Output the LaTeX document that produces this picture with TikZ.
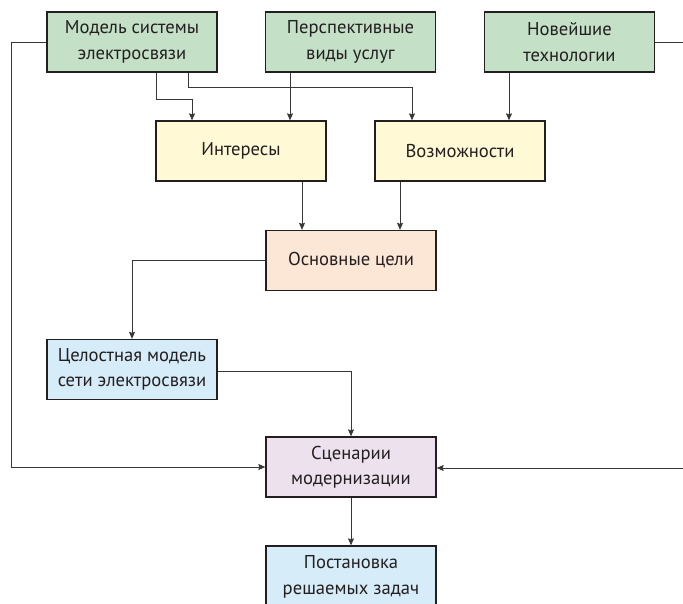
\documentclass[tikz,border=0pt]{standalone}
\usepackage{fontspec}
\setmainfont{PT Sans}
\usetikzlibrary{arrows.meta}
\definecolor{cgreen}{RGB}{196,224,199}
\definecolor{cyellow}{RGB}{255,249,214}
\definecolor{cpeach}{RGB}{252,230,214}
\definecolor{cblue}{RGB}{214,236,248}
\definecolor{cpurple}{RGB}{236,225,236}
\definecolor{cborder}{RGB}{35,31,32}
\definecolor{cline}{RGB}{55,55,55}
\tikzset{
  box/.style={draw=cborder, line width=1.3pt, minimum width=170pt, minimum height=60pt,
    inner sep=0pt, align=center, text=cborder,
    font=\fontsize{18.6}{25.5}\selectfont},
  arr/.style={draw=cline, line width=0.9pt, -{Stealth[length=7pt,width=6pt,inset=1pt]}},
  ln/.style={draw=cline, line width=0.9pt}
}
\begin{document}
\begin{tikzpicture}[x=1pt,y=-1pt]
\clip (0,0) rectangle (683,604);
\useasboundingbox (0,0) rectangle (683,604);
\node[box, fill=cgreen] (A) at (132,42) {Модель системы\\электросвязи};
\node[box, fill=cgreen] (B) at (350.5,42) {Перспективные\\виды услуг};
\node[box, fill=cgreen] (C) at (569.5,42) {Новейшие\\технологии};
\node[box, fill=cyellow] (I) at (241,151) {Интересы};
\node[box, fill=cyellow] (V) at (460,151) {Возможности};
\node[box, fill=cpeach] (O) at (351,260.5) {Основные цели};
\node[box, fill=cblue] (T) at (132,369.5) {Целостная модель\\сети электросвязи};
\node[box, fill=cpurple] (S) at (351,467) {Сценарии\\модернизации};
\node[box, fill=cblue, minimum height=62pt] (P) at (351,577) {Постановка\\решаемых задач};

\coordinate (j1) at (192,99);
\coordinate (j2) at (412,87);
\coordinate (lc) at (11,467);
\coordinate (rc1) at (700,42);
\coordinate (rc2) at (700,468);

\draw[arr] ([xshift=24pt]A.south) |- (j1) -- (j1 |- I.north);
\draw[arr] ([xshift=56pt]A.south) |- (j2) -- (j2 |- V.north);
\draw[arr] ([xshift=-60.5pt]B.south) -- ([xshift=-60.5pt]B.south |- I.north);
\draw[arr] ([xshift=-60.5pt]C.south) -- ([xshift=-60.5pt]C.south |- V.north);
\draw[arr] ([xshift=61pt]I.south) -- ([xshift=61pt]I.south |- O.north);
\draw[arr] ([xshift=-60pt]V.south) -- ([xshift=-60pt]V.south |- O.north);
\draw[arr] (O.west) -| (T.north);
\draw[arr] ([yshift=-1.5pt]T.east) -| (S.north);
\draw[arr] (S.south) -- (P.north);
\draw[arr] (A.west) -| (lc) -- (S.west);
\draw[arr] (C.east) -- (rc1) -- (rc2) -- ([yshift=-1pt]S.east);
\end{tikzpicture}
\end{document}
